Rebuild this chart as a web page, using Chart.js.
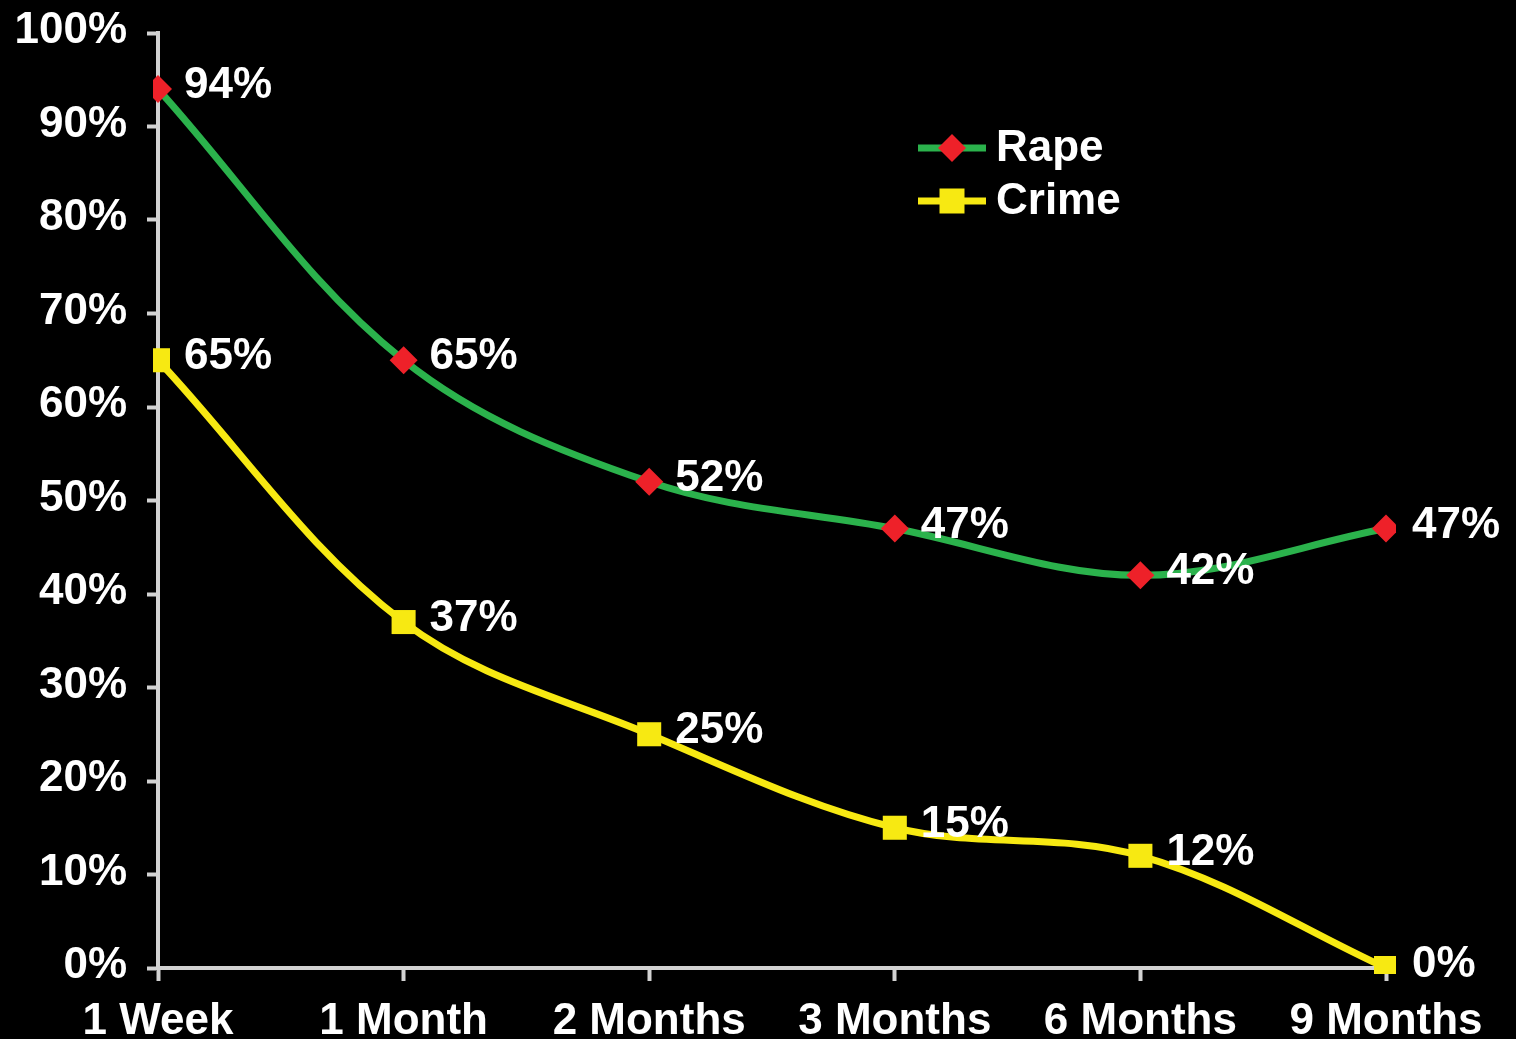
<!DOCTYPE html>
<html>
<head>
<meta charset="utf-8">
<title>Rape vs Crime</title>
<script src="https://cdn.jsdelivr.net/npm/chart.js@4/dist/chart.umd.min.js"></script>
<style>
  html, body { margin: 0; padding: 0; background: #000; }
  #wrap { width: 1516px; height: 1039px; }
  canvas { display: block; background: #000; }
</style>
</head>
<body>
<div id="wrap"><canvas id="chart" width="1516" height="1039"></canvas></div>
<script>
// Time since the event
const periods = ['1 Week', '1 Month', '2 Months', '3 Months', '6 Months', '9 Months'];

// Percentages per series
const rapeValues = [94, 65, 52, 47, 42, 47];
const crimeValues = [65, 37, 25, 15, 12, 0];

// Y axis ticks (percent)
const yTicks = [0, 10, 20, 30, 40, 50, 60, 70, 80, 90, 100];

const FONT = '"Liberation Sans", Arial, Helvetica, sans-serif';
const AXIS_GREY = '#d2d2d2';

// Value labels beside each marker
const valueLabels = {
  id: 'valueLabels',
  afterDatasetsDraw(chart) {
    const ctx = chart.ctx;
    ctx.save();
    ctx.font = 'bold 44px ' + FONT;
    ctx.fillStyle = '#ffffff';
    ctx.textAlign = 'left';
    ctx.textBaseline = 'middle';
    chart.data.datasets.forEach((ds, i) => {
      const meta = chart.getDatasetMeta(i);
      meta.data.forEach((pt, j) => {
        ctx.fillText(ds.data[j] + '%', pt.x + 26, pt.y - 3);
      });
    });
    ctx.restore();
  }
};

// Legend: line segment with the series marker, then the name
const lineLegend = {
  id: 'lineLegend',
  afterDraw(chart) {
    const ctx = chart.ctx;
    const x0 = 918, x1 = 986, rowY = [148, 201];
    ctx.save();
    chart.data.datasets.forEach((ds, i) => {
      const y = rowY[i];
      const cx = (x0 + x1) / 2;
      ctx.strokeStyle = ds.borderColor;
      ctx.lineWidth = 7;
      ctx.beginPath();
      ctx.moveTo(x0, y);
      ctx.lineTo(x1, y);
      ctx.stroke();
      ctx.fillStyle = ds.pointBackgroundColor;
      ctx.beginPath();
      if (ds.pointStyle === 'rectRot') {
        const r = 14;
        ctx.moveTo(cx, y - r);
        ctx.lineTo(cx + r, y);
        ctx.lineTo(cx, y + r);
        ctx.lineTo(cx - r, y);
        ctx.closePath();
      } else {
        const h = 12.5;
        ctx.rect(cx - h, y - h, 2 * h, 2 * h);
      }
      ctx.fill();
      ctx.font = 'bold 44px ' + FONT;
      ctx.fillStyle = '#ffffff';
      ctx.textAlign = 'left';
      ctx.textBaseline = 'middle';
      ctx.fillText(ds.label, 996, y + 1);
    });
    ctx.restore();
  }
};

const markerClip = { left: 5, top: false, right: 10, bottom: 6 };

new Chart(document.getElementById('chart'), {
  type: 'line',
  data: {
    labels: periods,
    datasets: [
      {
        label: 'Rape',
        data: rapeValues,
        borderColor: '#2bb24c',
        borderWidth: 7,
        pointStyle: 'rectRot',
        pointRadius: 14,
        pointHoverRadius: 14,
        pointBackgroundColor: '#ee2129',
        pointBorderWidth: 0,
        tension: 0.35,
        clip: markerClip
      },
      {
        label: 'Crime',
        data: crimeValues,
        borderColor: '#f7e912',
        borderWidth: 7,
        pointStyle: 'rect',
        pointRadius: 17,
        pointHoverRadius: 17,
        pointBackgroundColor: '#f7e912',
        pointBorderWidth: 0,
        tension: 0.35,
        clip: markerClip
      }
    ]
  },
  options: {
    responsive: false,
    devicePixelRatio: 1,
    animation: false,
    events: [],
    layout: { padding: { top: 33, right: 130, bottom: 0, left: 0 } },
    plugins: {
      legend: { display: false },
      tooltip: { enabled: false },
      title: { display: false }
    },
    scales: {
      x: {
        type: 'category',
        offset: false,
        afterFit(scale) { scale.height = 71; scale.paddingLeft = 0; scale.paddingRight = 0; },
        border: { display: true, color: AXIS_GREY, width: 4 },
        grid: {
          drawOnChartArea: false,
          drawTicks: true,
          tickLength: 13,
          tickWidth: 4,
          tickColor: AXIS_GREY,
          offset: false
        },
        ticks: {
          color: '#ffffff',
          font: { family: FONT, size: 44, weight: 'bold' },
          padding: 14,
          maxRotation: 0,
          autoSkip: false
        }
      },
      y: {
        min: 0,
        max: 100,
        afterFit(scale) { scale.width = 158; scale.paddingTop = 0; scale.paddingBottom = 0; },
        afterBuildTicks(scale) { scale.ticks = yTicks.map(v => ({ value: v })); },
        border: { display: true, color: AXIS_GREY, width: 4 },
        grid: {
          drawOnChartArea: false,
          drawTicks: true,
          tickLength: 11,
          tickWidth: 4,
          tickColor: AXIS_GREY
        },
        ticks: {
          color: '#ffffff',
          font: { family: FONT, size: 44, weight: 'bold' },
          padding: 20,
          labelOffset: -2,
          callback: v => v + '%'
        }
      }
    }
  },
  plugins: [valueLabels, lineLegend]
});
</script>
</body>
</html>
